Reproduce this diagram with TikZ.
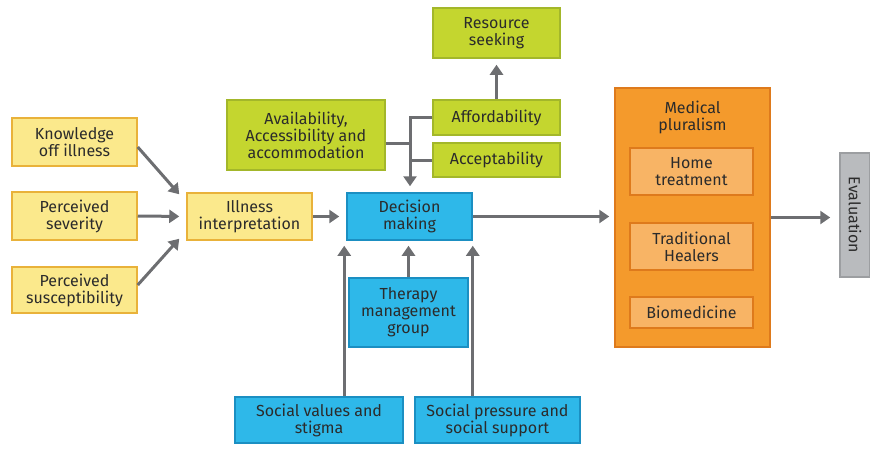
\documentclass[tikz,border=0pt]{standalone}
\usepackage{fontspec}
\setmainfont{Fira Sans}
\usetikzlibrary{arrows.meta,calc}
\definecolor{textGray}{HTML}{2B2B2B}
\definecolor{arrowGray}{HTML}{6D6E71}
\definecolor{yellowFill}{HTML}{FBE98C}
\definecolor{yellowLine}{HTML}{E9B23A}
\definecolor{greenFill}{HTML}{C4D62F}
\definecolor{greenLine}{HTML}{A3B72A}
\definecolor{blueFill}{HTML}{2EB8E9}
\definecolor{blueLine}{HTML}{1B8FC2}
\definecolor{orangeFill}{HTML}{F49A2C}
\definecolor{orangeLine}{HTML}{DE7A1C}
\definecolor{paleOrange}{HTML}{F8B465}
\definecolor{grayFill}{HTML}{B9BBBE}
\definecolor{grayLine}{HTML}{9C9EA1}
\tikzset{
  box/.style={draw,line width=1.5pt,align=center,inner sep=0pt,
    text=textGray,font=\fontsize{16}{17}\selectfont},
  yellowbox/.style={box,fill=yellowFill,draw=yellowLine},
  greenbox/.style={box,fill=greenFill,draw=greenLine},
  bluebox/.style={box,fill=blueFill,draw=blueLine},
  innerbox/.style={box,fill=paleOrange,draw=orangeLine},
  arr/.style={draw=arrowGray,line width=3pt,-{Triangle[width=13pt,length=10pt]}},
  ln/.style={draw=arrowGray,line width=3pt},
}
\begin{document}
\begin{tikzpicture}[x=1pt,y=-1pt]
\useasboundingbox (0,0) rectangle (870,448);
% left column
\node[yellowbox,minimum width=125pt,minimum height=48pt] (know) at (74.5,142) {Knowledge\\off illness};
\node[yellowbox,minimum width=125pt,minimum height=48pt] (sev) at (74.5,216) {Perceived\\severity};
\node[yellowbox,minimum width=125pt,minimum height=46pt] (susc) at (74.5,290) {Perceived\\susceptibility};
\node[yellowbox,minimum width=125pt,minimum height=47pt] (illness) at (249.5,216.5) {Illness\\interpretation};
% green group
\node[greenbox,minimum width=158pt,minimum height=70pt] (avail) at (306,135) {Availability,\\Accessibility and\\accommodation};
\node[greenbox,minimum width=127pt,minimum height=50pt] (resource) at (496.5,33) {Resource\\seeking};
\node[greenbox,minimum width=127pt,minimum height=35pt] (afford) at (496.5,117.5) {Affordability};
\node[greenbox,minimum width=127pt,minimum height=34pt] (accept) at (496.5,160) {Acceptability};
% blue group
\node[bluebox,minimum width=125pt,minimum height=47pt] (decision) at (409.5,216.5) {Decision\\making};
\node[bluebox,minimum width=119pt,minimum height=69pt] (therapy) at (408.5,312.5) {Therapy\\management\\group};
\node[bluebox,minimum width=168pt,minimum height=46pt] (socval) at (319,420) {Social values and\\stigma};
\node[bluebox,minimum width=165pt,minimum height=46pt] (socpress) at (497.5,420) {Social pressure and\\social support};
% medical pluralism
\node[box,fill=orangeFill,draw=orangeLine,minimum width=155pt,minimum height=259pt] (medical) at (692.5,217.5) {};
\node[text=textGray,align=center,font=\fontsize{16}{17}\selectfont] (medtitle) at (692.5,117) {Medical\\pluralism};
\node[innerbox,minimum width=123pt,minimum height=47pt] (home) at (691.5,171.5) {Home\\treatment};
\node[innerbox,minimum width=123pt,minimum height=47pt] (trad) at (691.5,246.5) {Traditional\\Healers};
\node[innerbox,minimum width=123pt,minimum height=31pt] (bio) at (691.5,312.5) {Biomedicine};
\node[box,fill=grayFill,draw=grayLine,minimum width=30pt,minimum height=124pt] (eval) at (855,215) {};
\node[text=textGray,rotate=-90,font=\fontsize{16}{17}\selectfont] (evaltext) at (eval) {Evaluation};
% connectors
\draw[arr] ([yshift=-5pt]know.east) -- ([xshift=-7pt,yshift=-2pt]illness.north west);
\draw[arr,shorten >=7pt] (sev.east) -- (illness.west);
\draw[arr] ([yshift=5pt]susc.east) -- ([xshift=-7pt,yshift=2pt]illness.south west);
\draw[arr,shorten >=7pt] (illness.east) -- (decision.west);
\coordinate (junction) at (410,143);
\draw[ln] ([yshift=-8pt]avail.east) -- (junction);
\draw[ln] (accept.west) -- (accept.west -| junction);
\draw[arr,shorten >=6pt] (afford.west) -- (afford.west -| junction) -- (decision.north -| junction);
\draw[arr,shorten >=6pt] (afford.north) -- (resource.south);
\coordinate (dleft) at ([xshift=-2pt]decision.south west);
\draw[arr,shorten >=5pt] (socval.north -| dleft) -- (dleft);
\draw[arr,shorten >=5pt] (therapy.north) -- (therapy.north |- decision.south);
\draw[arr,shorten >=5pt] (socpress.north -| decision.south east) -- (decision.south east);
\draw[arr,shorten >=5pt] (decision.east) -- (decision.east -| medical.west);
\draw[arr,shorten >=9pt] (medical.east) -- (medical.east -| eval.west);
\end{tikzpicture}
\end{document}
